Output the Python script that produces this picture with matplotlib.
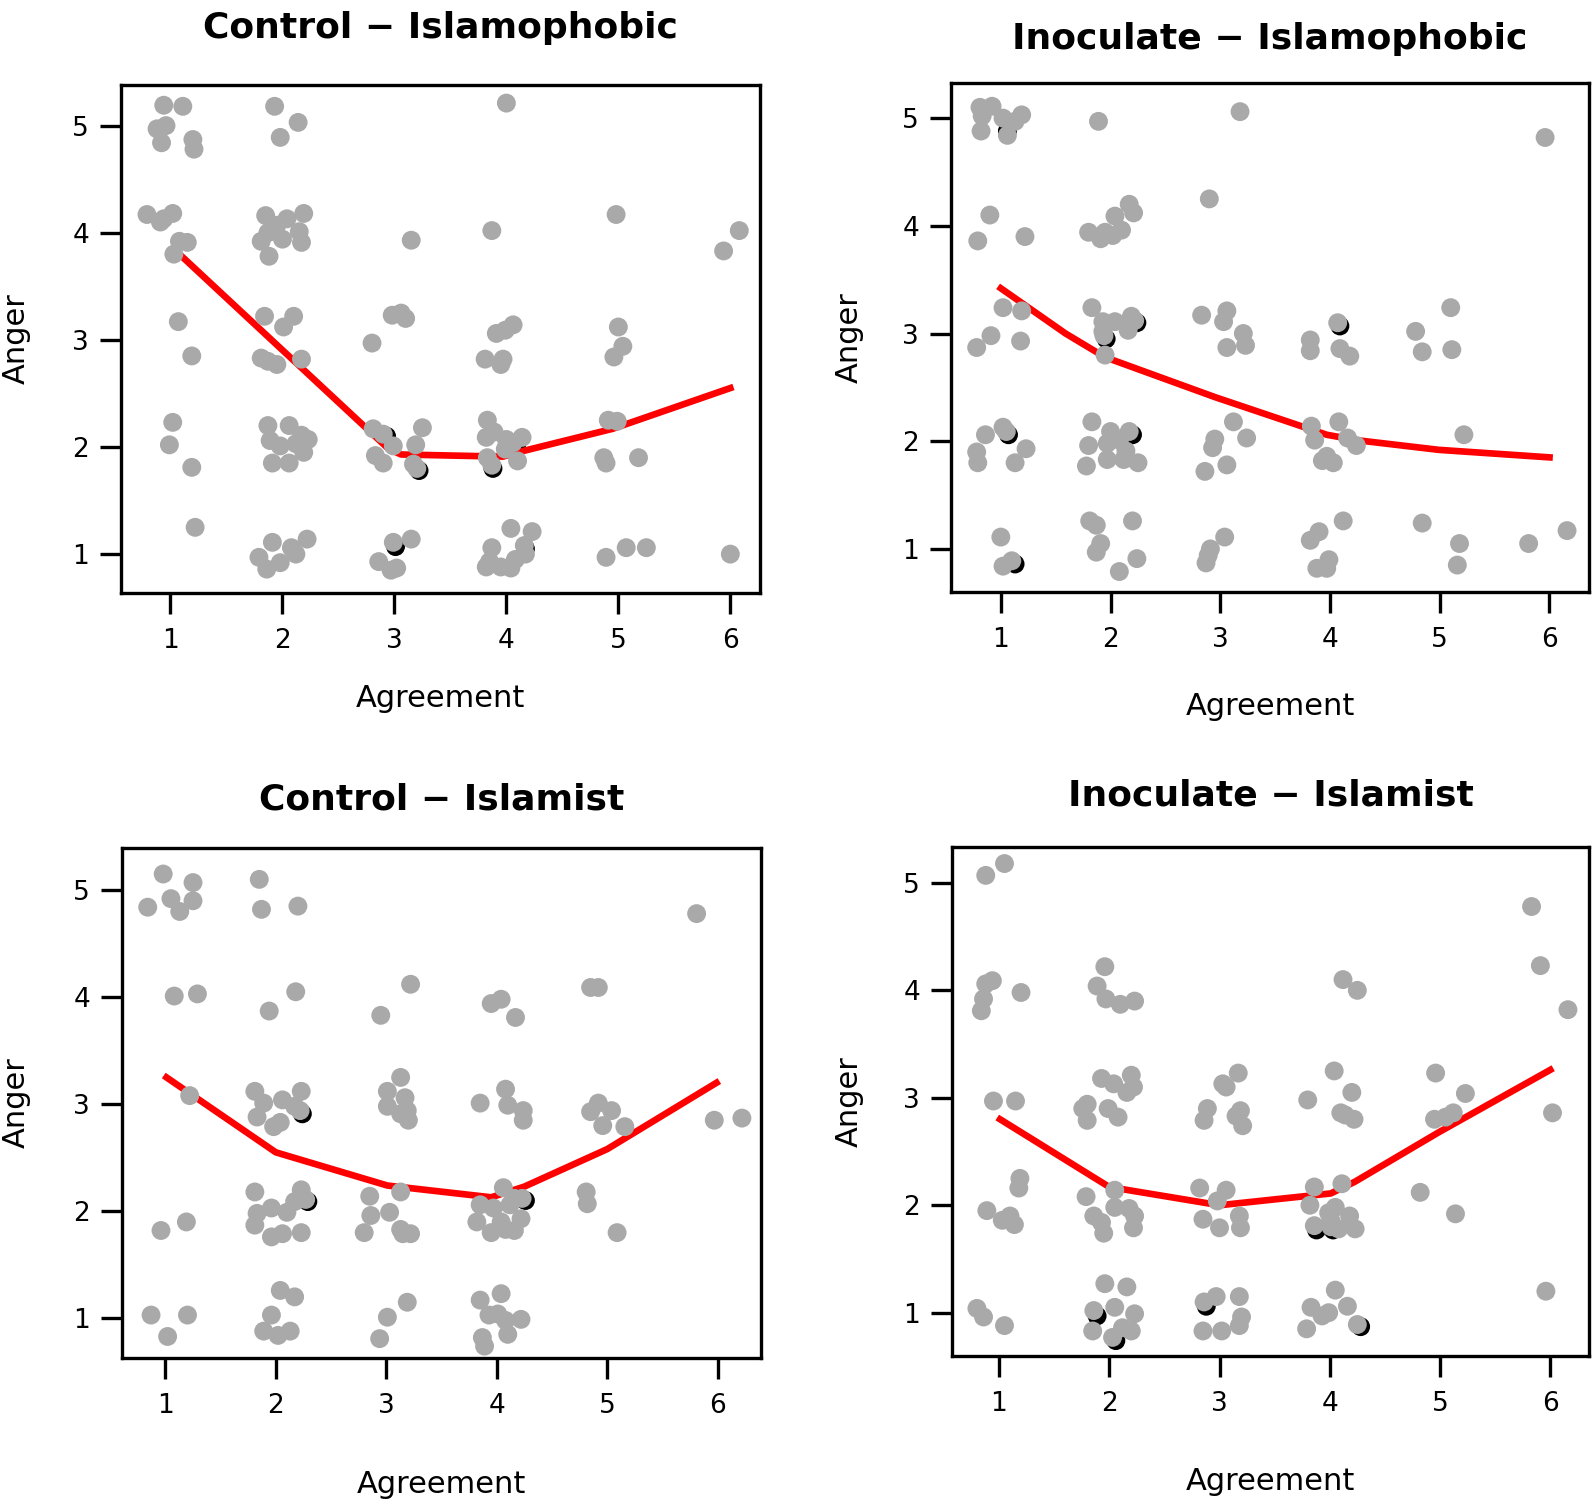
import numpy as np
import matplotlib
matplotlib.use("Agg")
from matplotlib import pyplot as plt

# ---- data (jittered responses, Agreement x Anger) ----
ctrl_phob_pts = [(0.94,5.19),(1.11,5.18),(0.88,4.97),(0.96,5.00),(0.92,4.84),(1.20,4.87),(1.21,4.78),
    (1.93,5.18),(2.14,5.03),(1.98,4.89),(4.00,5.21),
    (0.79,4.17),(0.91,4.10),(1.02,4.18),(0.94,4.13),(1.08,3.92),(1.15,3.91),(1.03,3.80),
    (1.85,4.16),(1.87,4.00),(1.88,3.78),(1.81,3.92),(2.00,3.94),(2.04,4.13),(2.19,4.18),(2.15,4.01),(2.17,3.91),(1.95,4.07),
    (3.15,3.93),(3.87,4.02),(4.98,4.17),(6.08,4.02),(5.94,3.83),
    (1.07,3.17),(1.19,2.85),(1.84,3.22),(2.10,3.22),(2.01,3.12),(1.81,2.83),(1.95,2.77),(2.17,2.82),(1.87,2.80),
    (2.98,3.23),(3.10,3.20),(3.06,3.25),(2.80,2.97),
    (4.06,3.14),(3.91,3.06),(3.99,3.09),(3.81,2.82),(3.97,2.82),(3.95,2.77),
    (5.00,3.12),(5.04,2.94),(4.96,2.84),
    (1.02,2.23),(0.99,2.02),(1.19,1.81),
    (1.87,2.20),(2.06,2.20),(2.17,2.11),(2.23,2.07),(1.89,2.06),(1.91,1.85),(2.06,1.85),(2.19,1.95),(1.98,2.01),(2.12,2.03),
    (2.81,2.17),(2.90,2.12),(2.99,2.01),(3.25,2.18),(3.19,2.02),(2.83,1.92),(2.90,1.85),(3.17,1.84),(3.20,1.80),
    (3.83,2.25),(3.82,2.09),(3.89,2.14),(4.00,2.07),(4.14,2.09),(4.06,2.04),(3.83,1.90),(3.87,1.83),(4.10,1.87),(3.99,1.98),
    (4.91,2.25),(4.99,2.24),(4.87,1.90),(4.89,1.85),(5.18,1.90),
    (1.22,1.25),
    (1.91,1.11),(2.22,1.14),(2.08,1.06),(1.79,0.97),(1.86,0.86),(1.98,0.92),(2.12,1.00),
    (2.99,1.11),(3.15,1.14),(2.86,0.93),(2.97,0.85),(3.02,0.87),
    (4.04,1.24),(4.23,1.21),(4.16,1.08),(3.87,1.06),(3.85,0.93),(3.95,0.88),(4.04,0.87),(4.08,0.95),(4.17,1.00),(3.82,0.88),
    (4.89,0.97),(5.07,1.06),(5.25,1.06),(6.00,1.00)]
ctrl_phob_dark = [(3.22,1.78),(3.88,1.80),(3.01,1.07),(4.17,1.05),(2.93,2.10),(4.09,2.01)]
ctrl_phob_line_x = [1.09, 2.95, 3.06, 3.97, 4.14, 4.95, 6.00]
ctrl_phob_line_y = [3.79, 1.98, 1.93, 1.91, 1.96, 2.17, 2.55]

inoc_phob_pts = [(0.81,5.10),(0.92,5.11),(0.83,5.02),(1.02,5.00),(1.19,5.03),(1.13,4.97),(0.82,4.88),(1.06,4.84),
    (1.89,4.97),(3.18,5.06),(5.96,4.82),
    (0.90,4.10),(0.79,3.86),(1.22,3.90),(1.80,3.94),(1.91,3.88),(2.02,3.91),(2.04,4.09),(2.17,4.20),(2.21,4.12),
    (2.10,3.96),(1.95,3.94),(2.90,4.25),
    (1.02,3.24),(1.19,3.21),(0.91,2.98),(0.78,2.87),(1.18,2.93),
    (1.83,3.24),(1.93,3.02),(1.94,2.98),(1.95,2.80),(2.04,3.11),(2.16,3.03),(2.19,3.16),(2.22,3.12),(1.93,3.11),
    (2.83,3.17),(3.06,3.21),(3.03,3.11),(3.21,3.00),(3.23,2.89),(3.06,2.87),
    (3.82,2.94),(3.82,2.84),(4.07,3.10),(4.09,2.86),(4.18,2.79),
    (5.10,3.24),(4.78,3.02),(4.84,2.83),(5.11,2.85),
    (1.02,2.13),(1.05,2.09),(0.86,2.06),(0.78,1.90),(0.79,1.80),(1.23,1.93),(1.13,1.80),
    (1.83,2.18),(1.80,1.96),(1.78,1.77),(1.97,1.98),(1.97,1.83),(2.12,1.83),(2.25,1.80),(2.17,2.09),(2.08,2.01),(2.14,1.91),(2.00,2.09),
    (3.12,2.18),(3.24,2.03),(2.95,2.02),(2.93,1.94),(3.06,1.78),(2.86,1.72),
    (3.83,2.14),(4.08,2.18),(3.86,2.01),(4.16,2.03),(4.24,1.96),(3.97,1.86),(3.93,1.82),(4.03,1.80),
    (5.22,2.06),
    (1.00,1.11),(1.10,0.89),(1.02,0.84),
    (1.81,1.26),(1.87,1.22),(2.20,1.26),(1.91,1.05),(1.87,0.97),(2.24,0.91),(2.08,0.79),
    (3.04,1.11),(2.91,1.00),(2.89,0.94),(2.87,0.87),
    (3.82,1.08),(3.90,1.16),(4.12,1.26),(3.99,0.90),(3.88,0.82),(3.97,0.82),
    (4.84,1.24),(5.18,1.05),(5.16,0.85),(5.81,1.05),(6.16,1.17)]
inoc_phob_dark = [(1.06,4.88),(2.24,3.10),(1.96,2.95),(4.09,3.07),(1.07,2.06),(2.20,2.06),(1.13,0.86)]
inoc_phob_line_x = [1.00, 1.59, 1.95, 2.95, 3.97, 4.24, 4.99, 6.00]
inoc_phob_line_y = [3.42, 3.00, 2.78, 2.41, 2.06, 2.01, 1.92, 1.85]

ctrl_ist_pts = [(0.98,5.15),(1.25,5.07),(1.05,4.92),(1.25,4.90),(1.13,4.80),(0.84,4.84),(1.85,5.10),(1.87,4.82),
    (2.20,4.85),(5.81,4.78),
    (1.08,4.01),(1.29,4.03),(1.94,3.87),(2.18,4.05),(3.22,4.12),(2.95,3.83),(3.95,3.94),(4.04,3.98),(4.17,3.81),
    (4.85,4.09),(4.92,4.09),
    (1.22,3.08),
    (1.81,3.12),(2.06,3.04),(2.23,3.12),(2.17,2.98),(2.22,2.94),(1.83,2.88),(2.04,2.83),(1.89,3.01),(1.98,2.79),
    (3.13,3.25),(3.01,3.12),(3.17,3.06),(3.01,2.98),(3.19,2.94),(3.20,2.85),(3.13,2.91),
    (3.85,3.01),(4.08,3.14),(4.10,2.99),(4.24,2.94),(4.24,2.85),
    (4.92,3.01),(4.85,2.93),(5.04,2.94),(4.96,2.80),(5.16,2.79),(5.97,2.85),(6.22,2.87),
    (0.96,1.82),(1.19,1.90),
    (1.81,2.18),(2.23,2.20),(2.27,2.11),(1.83,1.98),(1.96,2.03),(2.10,1.99),(2.17,2.09),(1.81,1.87),(1.96,1.76),(2.06,1.79),(2.23,1.80),
    (2.85,2.14),(3.13,2.18),(3.03,1.99),(2.86,1.96),(2.80,1.80),(3.15,1.79),(3.22,1.79),(3.13,1.83),
    (4.06,2.22),(4.16,2.12),(4.23,2.12),(3.85,2.06),(3.97,2.03),(4.12,2.06),(3.82,1.90),(3.95,1.80),(4.16,1.82),(4.04,1.90),
    (4.22,1.93),(4.08,1.83),
    (4.81,2.18),(4.82,2.07),(5.09,1.80),
    (0.87,1.03),(1.20,1.03),(1.02,0.83),
    (2.04,1.26),(2.17,1.20),(1.96,1.03),(1.89,0.88),(2.02,0.84),(2.13,0.88),
    (3.19,1.15),(3.01,1.01),(2.94,0.81),
    (3.85,1.17),(4.04,1.23),(3.93,1.03),(4.08,0.98),(4.22,0.99),(3.87,0.82),(4.10,0.85),(3.89,0.74),(4.01,1.04)]
ctrl_ist_dark = [(2.24,2.91),(2.29,2.09),(4.26,2.10)]
ctrl_ist_line_x = [1.01, 2.00, 3.01, 3.95, 4.25, 5.00, 5.99]
ctrl_ist_line_y = [3.25, 2.55, 2.24, 2.13, 2.23, 2.58, 3.20]

inoc_ist_pts = [(0.88,5.07),(1.05,5.18),(5.83,4.78),
    (0.88,4.06),(0.94,4.09),(0.86,3.92),(0.84,3.81),(1.20,3.98),
    (1.96,4.22),(1.89,4.04),(1.97,3.92),(2.10,3.87),(2.23,3.90),
    (4.12,4.10),(4.25,4.00),(5.91,4.23),(6.16,3.82),
    (0.95,2.97),(1.15,2.97),
    (1.93,3.18),(2.04,3.13),(2.20,3.21),(2.22,3.10),(2.16,3.05),(1.80,2.94),(1.80,2.79),(1.99,2.90),(2.08,2.82),(1.76,2.90),
    (3.17,3.23),(3.03,3.13),(3.06,3.10),(2.89,2.90),(2.86,2.79),(3.19,2.88),(3.21,2.74),(3.15,2.83),
    (4.04,3.25),(3.80,2.98),(4.20,3.05),(4.14,2.84),(4.22,2.80),(4.10,2.86),
    (4.96,3.23),(5.23,3.04),(5.12,2.86),(4.95,2.80),(5.05,2.82),(6.02,2.86),
    (1.19,2.25),(1.18,2.16),(0.89,1.95),(1.03,1.86),(1.14,1.82),(1.10,1.90),
    (1.79,2.08),(2.05,2.14),(1.86,1.90),(1.95,1.74),(2.05,1.98),(2.18,1.97),(2.22,1.79),(2.23,1.90),(1.93,1.84),
    (2.82,2.16),(3.06,2.14),(2.98,2.04),(2.85,1.87),(3.00,1.79),(3.18,1.90),(3.19,1.79),
    (3.86,2.17),(4.11,2.20),(3.82,2.00),(4.05,1.98),(4.18,1.90),(3.86,1.81),(4.01,1.86),(4.01,1.80),(4.23,1.78),(3.99,1.93),
    (4.08,1.78),
    (4.82,2.12),(5.14,1.92),
    (0.80,1.04),(0.86,0.96),(1.05,0.88),
    (1.96,1.27),(2.16,1.24),(1.86,1.02),(2.05,1.05),(2.23,0.99),(1.85,0.83),(2.03,0.77),(2.20,0.83),(2.12,0.86),
    (2.86,1.10),(2.97,1.15),(3.18,1.15),(3.20,0.96),(3.18,0.88),(2.85,0.83),(3.02,0.83),
    (3.83,1.05),(4.05,1.21),(4.16,1.06),(3.99,1.00),(3.93,0.97),(3.79,0.85),(4.25,0.89),
    (5.96,1.20)]
inoc_ist_dark = [(1.89,0.97),(2.06,0.74),(2.88,1.06),(3.88,1.77),(4.03,1.77),(4.28,0.87)]
inoc_ist_line_x = [1.01, 2.00, 3.00, 4.01, 4.23, 4.99, 6.00]
inoc_ist_line_y = [2.80, 2.17, 2.00, 2.11, 2.22, 2.68, 3.26]

titles = ["Control \u2212 Islamophobic", "Inoculate \u2212 Islamophobic",
          "Control \u2212 Islamist", "Inoculate \u2212 Islamist"]
x_ticks = [1, 2, 3, 4, 5, 6]
y_ticks = [1, 2, 3, 4, 5]

W, H = 1592, 1500
fig = plt.figure(figsize=(W / 100, H / 100), dpi=100)

# panel boxes in pixels: left, top, right, bottom ; axis limits
boxes = [(121, 85, 760, 593), (951, 83, 1589, 592), (122, 848, 761, 1358), (952, 847, 1589, 1356)]
xlims = [(0.558, 6.265), (0.546, 6.36), (0.607, 6.393), (0.574, 6.351)]
ylims = [(0.637, 5.379), (0.600, 5.326), (0.629, 5.393), (0.597, 5.334)]
title_base = [38, 49, 809, 806]
xlab_base = [707, 715, 1493, 1490]
ylab_x = [16, 849, 16, 849]

panels = [(ctrl_phob_pts, ctrl_phob_dark, ctrl_phob_line_x, ctrl_phob_line_y),
          (inoc_phob_pts, inoc_phob_dark, inoc_phob_line_x, inoc_phob_line_y),
          (ctrl_ist_pts, ctrl_ist_dark, ctrl_ist_line_x, ctrl_ist_line_y),
          (inoc_ist_pts, inoc_ist_dark, inoc_ist_line_x, inoc_ist_line_y)]

for i, (pts, dark, lx, ly) in enumerate(panels):
    l, t, r, b = boxes[i]
    ax = fig.add_axes([l / W, 1 - b / H, (r - l) / W, (b - t) / H])
    pts = np.array(pts)
    dark = np.array(dark)
    ax.scatter(dark[:, 0], dark[:, 1], s=185, c="black", edgecolors="none", zorder=1)
    ax.plot(lx, ly, color="#ff0000", lw=4.8, zorder=2)
    ax.scatter(pts[:, 0], pts[:, 1], s=185, c="#a9a9a9", edgecolors="none", zorder=3)
    ax.set_xlim(*xlims[i])
    ax.set_ylim(*ylims[i])
    ax.set_xticks(x_ticks)
    ax.set_yticks(y_ticks)
    for sp in ax.spines.values():
        sp.set_linewidth(2.4)
    ax.tick_params(axis="both", length=15, width=2.4, labelsize=19)
    ax.tick_params(axis="x", pad=10.5)
    ax.tick_params(axis="y", pad=8)

    cx = (l + r) / 2
    fig.text(cx / W, 1 - title_base[i] / H, titles[i], ha="center", va="baseline",
             fontsize=26, fontweight="bold")
    fig.text(cx / W, 1 - xlab_base[i] / H, "Agreement", ha="center", va="baseline", fontsize=22)
    fig.text(ylab_x[i] / W, 1 - (t + b) / 2 / H, "Anger", ha="center", va="center",
             rotation=90, fontsize=22)

fig.savefig("out.png", dpi=100)
